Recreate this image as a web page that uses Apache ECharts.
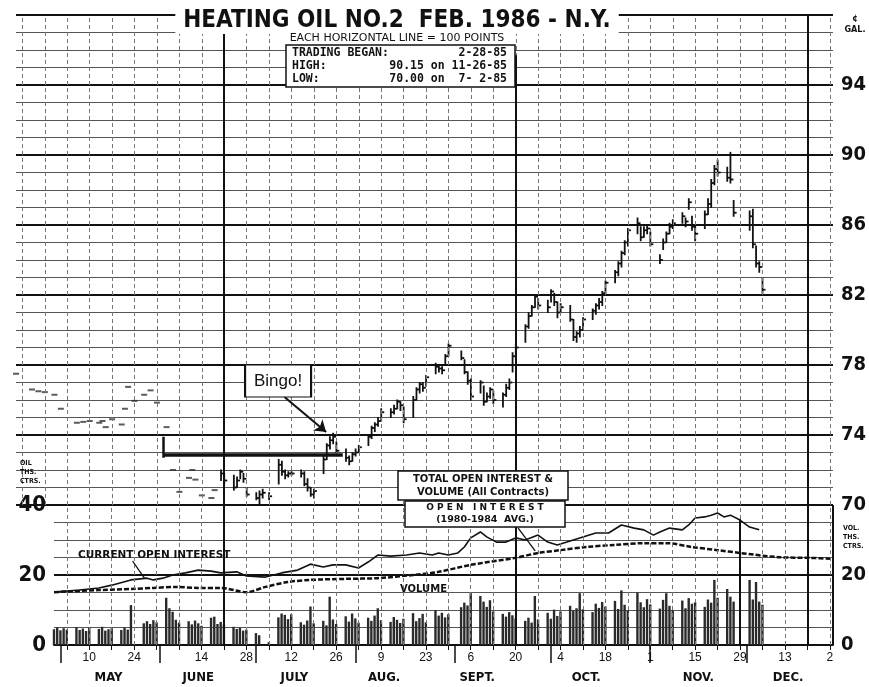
<!DOCTYPE html>
<html>
<head>
<meta charset="utf-8">
<title>Heating Oil No.2 Feb. 1986 - N.Y.</title>
<script src="https://cdn.jsdelivr.net/npm/echarts@6/dist/echarts.min.js"></script>
<style>
  html, body { margin: 0; padding: 0; background: #fff; }
  #chart { width: 869px; height: 687px; }
</style>
</head>
<body>
<div id="chart"></div>
<script>
// day numbers count from Friday 3 May 1985 (= day 0)

// thin early trading, closes only (drawn as dashes)
var dashDays   = [-16, -11, -9, -7, -4, -2, 3, 5, 7, 10, 11, 12, 14, 17, 18, 19, 21, 24, 26, 28, 31, 33, 35, 38, 39, 40, 42, 45, 46];
var dashPrices = [77.5, 76.6, 76.5, 76.45, 76.3, 75.5, 74.7, 74.75, 74.8, 74.7, 74.8, 74.45, 74.9, 74.6, 75.5, 76.75, 75.95, 76.3, 76.55, 75.85, 74.45, 72.0, 70.75, 71.55, 72.0, 71.45, 70.55, 70.4, 70.85];

// daily high / low / close bars
var barDays = [48, 49, 52, 53, 54, 55, 56, 59, 60, 61, 63, 66, 67, 68, 69, 70, 73, 74, 75, 76, 77,
  80, 81, 82, 83, 84, 87, 88, 89, 90, 91, 94, 95, 96, 97, 98, 101, 102, 103, 104, 105,
  108, 109, 110, 111, 112, 115, 116, 117, 118, 119, 123, 124, 125, 126, 129, 130, 131, 132, 133,
  136, 137, 138, 139, 140, 143, 144, 145, 146, 147, 150, 151, 152, 153, 154, 157, 158, 159, 160, 161,
  164, 165, 166, 167, 168, 171, 172, 173, 174, 175, 178, 179, 180, 181, 182, 185, 186, 187, 188, 189,
  192, 193, 194, 195, 196, 199, 200, 201, 202, 203, 206, 207, 208, 213, 214, 215, 216, 217];
var highs = [72.0, 71.8, 71.7, 71.6, 72.0, 71.8, 71.0, 70.7, 70.8, 70.9, 70.7, 72.6, 72.5, 72.0, 71.9, 71.9, 72.0, 71.9, 71.5, 71.0, 70.9,
  72.8, 73.5, 73.9, 74.1, 73.6, 73.2, 72.8, 73.0, 73.2, 73.4, 74.0, 74.5, 74.7, 75.0, 75.5, 75.5, 75.7, 76.0, 75.9, 75.6,
  76.2, 76.7, 77.0, 77.0, 77.4, 78.1, 78.0, 77.9, 78.6, 79.2, 78.8, 78.3, 77.6, 77.2, 77.1, 76.8, 76.4, 76.7, 76.5,
  76.4, 76.9, 77.2, 78.7, 79.2, 80.3, 81.0, 81.4, 82.0, 81.8, 81.7, 82.3, 82.1, 81.6, 81.5, 81.4, 80.6, 79.9, 80.2, 80.7,
  81.2, 81.5, 81.8, 82.2, 82.8, 83.4, 83.9, 84.5, 85.1, 85.8, 86.4, 85.9, 85.9, 86.0, 85.6, 84.3, 85.2, 85.6, 86.1, 86.3,
  86.7, 86.4, 87.5, 86.5, 86.0, 86.8, 87.5, 88.6, 89.4, 89.7, 89.3, 90.15, 87.4, 86.8, 86.9, 84.8, 83.9, 83.0];
var lows = [71.4, 71.2, 70.85, 71.0, 71.5, 71.3, 70.5, 70.3, 70.0, 70.4, 70.3, 71.2, 71.7, 71.5, 71.6, 71.7, 71.6, 71.1, 70.8, 70.5, 70.4,
  71.8, 72.6, 73.2, 73.5, 73.0, 72.5, 72.3, 72.5, 72.8, 73.0, 73.4, 73.8, 74.2, 74.5, 74.8, 75.0, 75.2, 75.5, 75.4, 74.7,
  75.0, 76.0, 76.4, 76.5, 76.8, 77.5, 77.6, 77.5, 78.0, 78.5, 78.3, 77.5, 76.9, 76.0, 76.4, 75.7, 75.9, 76.1, 75.8,
  75.6, 76.2, 76.6, 77.6, 78.3, 79.3, 80.1, 80.8, 81.3, 81.2, 81.0, 81.6, 81.4, 80.7, 81.0, 80.5, 79.4, 79.3, 79.6, 80.0,
  80.6, 80.9, 81.2, 81.4, 82.0, 82.7, 83.1, 83.6, 84.3, 84.8, 85.5, 85.1, 85.3, 85.5, 84.8, 83.8, 84.6, 85.0, 85.5, 85.8,
  86.1, 85.9, 86.9, 85.7, 85.1, 85.8, 86.6, 87.0, 88.3, 88.8, 88.5, 88.4, 86.5, 85.7, 84.7, 83.6, 83.3, 82.1];
var closes = [71.8, 71.4, 71.0, 71.4, 71.9, 71.5, 70.6, 70.4, 70.6, 70.7, 70.5, 72.3, 71.9, 71.7, 71.8, 71.8, 71.8, 71.2, 71.0, 70.6, 70.8,
  72.6, 73.4, 73.7, 73.9, 73.1, 72.7, 72.5, 72.9, 73.0, 73.3, 73.9, 74.4, 74.6, 74.8, 75.3, 75.3, 75.5, 75.9, 75.7, 74.9,
  76.0, 76.6, 76.9, 76.7, 77.3, 77.9, 77.8, 77.7, 78.5, 79.1, 78.4, 77.6, 77.1, 76.2, 77.0, 75.9, 76.2, 76.6, 76.0,
  76.3, 76.7, 77.0, 78.5, 79.0, 80.2, 80.8, 81.3, 81.9, 81.4, 81.3, 82.2, 81.6, 81.0, 81.3, 80.6, 79.6, 79.8, 80.0, 80.6,
  81.1, 81.4, 81.6, 82.1, 82.7, 83.3, 83.8, 84.4, 85.0, 85.7, 86.1, 85.3, 85.7, 85.8, 84.9, 84.0, 85.0, 85.5, 85.9, 86.1,
  86.5, 86.2, 87.3, 85.9, 85.5, 86.6, 87.2, 88.4, 89.2, 89.0, 88.7, 88.6, 86.7, 86.5, 84.9, 83.8, 83.6, 82.3];

// daily volume, thousands of contracts
var volDays = [-4, -3, -2, -1, 0, 3, 4, 5, 6, 7, 10, 11, 12, 13, 14, 17, 18, 19, 20, 24, 25, 26, 27, 28,
  31, 32, 33, 34, 35, 38, 39, 40, 41, 42, 45, 46, 47, 48, 49, 52, 53, 54, 55, 56, 59, 60, 63,
  66, 67, 68, 69, 70, 73, 74, 75, 76, 77, 80, 81, 82, 83, 84, 87, 88, 89, 90, 91, 94, 95, 96, 97, 98,
  101, 102, 103, 104, 105, 108, 109, 110, 111, 112, 115, 116, 117, 118, 119, 123, 124, 125, 126,
  129, 130, 131, 132, 133, 136, 137, 138, 139, 140, 143, 144, 145, 146, 147, 150, 151, 152, 153, 154,
  157, 158, 159, 160, 161, 164, 165, 166, 167, 168, 171, 172, 173, 174, 175, 178, 179, 180, 181, 182,
  185, 186, 187, 188, 189, 192, 193, 194, 195, 196, 199, 200, 201, 202, 203, 206, 207, 208, 213, 214, 215, 216, 217];
var volumes = [4.5, 5.0, 4.2, 4.8, 4.4, 5.1, 4.3, 4.7, 4.0, 4.9, 4.6, 5.2, 4.1, 4.5, 4.8, 4.3, 5.0, 4.4, 11.4, 6.2, 6.8, 6.0, 7.1, 6.5,
  13.5, 10.5, 9.5, 7.2, 6.4, 6.8, 5.9, 7.0, 6.2, 5.5, 7.8, 8.1, 6.0, 6.6, 5.9, 5.2, 4.6, 4.9, 4.1, 4.4, 3.4, 2.8, 0.8,
  7.9, 9.0, 8.6, 7.4, 8.8, 6.5, 5.8, 7.0, 11.0, 6.2, 6.9, 5.6, 13.8, 7.3, 6.0, 8.2, 6.7, 9.0, 7.6, 6.4, 7.8, 6.9, 8.4, 10.5, 7.1,
  6.6, 8.0, 7.2, 6.3, 7.5, 9.1, 6.8, 7.7, 8.9, 6.5, 10.0, 8.4, 9.2, 7.9, 8.8, 10.8, 12.1, 11.3, 14.8,
  14.0, 12.4, 10.9, 12.8, 9.6, 8.9, 8.1, 9.4, 8.5, 7.6, 6.9, 7.8, 6.4, 14.0, 7.3, 9.2, 7.5, 10.1, 8.3, 9.6,
  11.2, 9.8, 10.5, 14.8, 10.2, 9.4, 11.8, 10.6, 12.3, 11.0, 12.6, 10.3, 15.6, 11.5, 9.8, 15.0, 12.2, 10.8, 13.1, 11.6,
  10.4, 12.9, 14.8, 11.2, 9.9, 12.7, 10.5, 13.4, 11.8, 12.2, 10.9, 13.0, 12.1, 18.6, 13.5, 16.0, 13.8, 12.4, 18.6, 13.0, 18.0, 12.4, 11.5];

// total open interest (all contracts)
var oiDays  = [-4, 4, 10, 14, 20, 25, 27, 30, 33, 37, 41, 45, 48, 53, 56, 62, 67, 72, 76, 80, 83, 87, 91, 94, 97, 101, 106, 110, 114, 116, 119, 122, 124, 126, 129, 131, 134, 137, 140, 143, 147, 150, 153, 156, 160, 165, 169, 173, 177, 180, 183, 185, 188, 192, 194, 196, 199, 201, 203, 205, 207, 210, 213, 216];
var oiTotal = [15.1, 15.7, 16.3, 17.1, 18.6, 19.1, 18.6, 19.1, 20.0, 20.6, 21.4, 21.1, 20.6, 20.9, 19.7, 19.4, 20.6, 21.4, 23.1, 22.3, 22.9, 22.9, 22.0, 23.7, 25.7, 25.4, 25.7, 26.3, 25.7, 26.3, 25.7, 26.3, 28.0, 30.6, 32.3, 30.9, 29.4, 29.4, 30.6, 30.0, 31.4, 29.4, 28.6, 29.4, 30.6, 32.0, 32.0, 34.3, 33.4, 32.9, 31.4, 32.3, 33.4, 32.9, 34.3, 36.3, 36.6, 37.1, 37.7, 36.6, 37.1, 35.7, 33.7, 32.9];

// open interest, 1980-1984 average
var avgDays = [-4, 10, 20, 27, 34, 41, 48, 56, 62, 69, 76, 87, 97, 108, 116, 126, 140, 147, 154, 162, 171, 180, 187, 195, 203, 210, 222, 232, 239];
var oiAvg   = [15.1, 15.7, 16.0, 16.3, 16.6, 16.3, 16.3, 15.1, 16.6, 18.0, 18.6, 18.9, 19.1, 20.0, 20.9, 22.9, 24.9, 26.3, 27.1, 28.0, 28.6, 29.1, 29.1, 28.0, 27.1, 26.3, 25.1, 24.9, 24.6];

// date labels
var dayTicks  = [7, 21, 42, 56, 70, 84, 98, 112, 126, 140, 154, 168, 182, 196, 210, 224, 238];
var dayLabels = ['10', '24', '14', '28', '12', '26', '9', '23', '6', '20', '4', '18', '1', '15', '29', '13', '2'];
var monthStarts = [-2, 29, 59, 90, 121, 151, 182, 212];
var monthMids   = [13, 41, 71, 99, 128, 162, 197, 225];
var monthNames  = ['MAY', 'JUNE', 'JULY', 'AUG.', 'SEPT.', 'OCT.', 'NOV.', 'DEC.'];

var INK = '#111';
var COND = "'DejaVu Sans Condensed','Liberation Sans Narrow','Roboto Condensed','DejaVu Sans',sans-serif";
var MONO = "'DejaVu Sans Mono','Liberation Mono',monospace";
var WIDE = "'DejaVu Sans',Verdana,sans-serif";

// weekly (Friday) grid lines
var fridays = [];
for (var f = -14; f <= 238; f += 7) fridays.push(f);

var weekLine = { color: '#777', width: 1, type: [4, 3] };
var heavy = { color: INK, width: 2, type: 'solid' };

var priceLines = fridays.map(function (d) { return { xAxis: d, lineStyle: weekLine }; });
priceLines.push([{ coord: [49, 70] }, { coord: [49, 98], lineStyle: heavy }]);
priceLines.push([{ coord: [140, 70] }, { coord: [140, 95.7], lineStyle: heavy }]);
priceLines.push([{ coord: [231, 70] }, { coord: [231, 98], lineStyle: heavy }]);
// hand drawn support line and "Bingo!" arrow
priceLines.push([{ coord: [30, 72.9] }, { coord: [86, 72.9], lineStyle: { color: INK, width: 3.5, type: 'solid' } }]);
priceLines.push([{ coord: [30, 73.9] }, { coord: [30, 72.7], lineStyle: { color: INK, width: 2.5, type: 'solid' } }]);
priceLines.push([{ coord: [67.8, 76.17] }, { coord: [80.8, 74.17], symbol: 'arrow', symbolSize: 11, lineStyle: { color: INK, width: 2, type: 'solid' } }]);

var volLines = fridays.filter(function (d) { return d >= 0; }).map(function (d) { return { xAxis: d, lineStyle: weekLine }; });
volLines.push([{ coord: [49, 0] }, { coord: [49, 40], lineStyle: heavy }]);
volLines.push([{ coord: [140, 0] }, { coord: [140, 40], lineStyle: heavy }]);
volLines.push([{ coord: [231, 0] }, { coord: [231, 40], lineStyle: heavy }]);
volLines.push([{ coord: [210, 0] }, { coord: [210, 36], lineStyle: heavy }]);
volLines.push([{ coord: [239, 0] }, { coord: [239, 40], lineStyle: heavy }]);

// little helpers for the boxed notes
function note(x, y, text, font, align) {
  return { type: 'text', z: 100, style: { x: x, y: y, text: text, font: font, fill: INK, textAlign: align || 'left', textVerticalAlign: 'middle' } };
}
function box(x, y, w, h) {
  return { type: 'rect', z: 99, shape: { x: x, y: y, width: w, height: h }, style: { fill: '#fff', stroke: INK, lineWidth: 1.5 } };
}

var chart = echarts.init(document.getElementById('chart'));

var option = {
  backgroundColor: '#fff',
  animation: false,
  grid: [
    { left: 16, right: 33, top: 15, bottom: 182 },
    { left: 54, right: 33, top: 505, bottom: 42 }
  ],
  xAxis: [
    { gridIndex: 0, type: 'value', min: -16, max: 239, show: false },
    {
      gridIndex: 1, type: 'value', min: -4, max: 239,
      axisLine: { show: true, lineStyle: { color: INK, width: 2 } },
      axisTick: { show: true, customValues: fridays.filter(function (d) { return d >= 0; }), length: 5, lineStyle: { color: INK } },
      axisLabel: {
        customValues: dayTicks, color: INK, fontSize: 12, margin: 7,
        fontFamily: 'Liberation Sans, Arial, sans-serif',
        formatter: function (v) { return dayLabels[dayTicks.indexOf(v)]; }
      },
      splitLine: { show: false }
    },
    {
      gridIndex: 1, type: 'value', min: -4, max: 239, position: 'bottom', offset: 20,
      axisLine: { show: false },
      axisTick: { show: true, customValues: monthStarts, length: 18, lineStyle: { color: INK, width: 1.5 } },
      axisLabel: {
        customValues: monthMids, color: INK, fontSize: 13, fontWeight: 'bold', margin: 6,
        fontFamily: COND,
        formatter: function (v) { return monthNames[monthMids.indexOf(v)]; }
      },
      splitLine: { show: false }
    }
  ],
  yAxis: [
    {
      gridIndex: 0, type: 'value', min: 70, max: 98, interval: 4, position: 'right',
      axisLine: { show: false }, axisTick: { show: false },
      axisLabel: {
        color: INK, fontSize: 20, fontWeight: 'bold', fontFamily: COND, margin: 8,
        formatter: function (v) { return v === 98 ? '' : v; }
      },
      splitLine: { show: true, lineStyle: { color: INK, width: 2 } },
      minorTick: { show: false, splitNumber: 4 },
      minorSplitLine: { show: true, lineStyle: { color: '#555', width: 1 } }
    },
    {
      gridIndex: 1, type: 'value', min: 0, max: 40, interval: 20, position: 'left',
      axisLine: { show: false }, axisTick: { show: false },
      axisLabel: { color: INK, fontSize: 22, fontWeight: 'bold', fontFamily: COND, margin: 8 },
      splitLine: { show: true, lineStyle: { color: INK, width: 2 } },
      minorTick: { show: false, splitNumber: 4 },
      minorSplitLine: { show: true, lineStyle: { color: '#555', width: 1 } }
    },
    {
      gridIndex: 1, type: 'value', min: 0, max: 40, interval: 20, position: 'right',
      axisLine: { show: false }, axisTick: { show: false },
      axisLabel: {
        color: INK, fontSize: 20, fontWeight: 'bold', fontFamily: COND, margin: 8,
        formatter: function (v) { return v === 40 ? '' : v; }
      },
      splitLine: { show: false }
    }
  ],
  series: [
    {
      name: 'early trading',
      type: 'scatter',
      xAxisIndex: 0, yAxisIndex: 0,
      symbol: 'rect', symbolSize: [6, 2],
      itemStyle: { color: '#333' },
      data: dashDays.map(function (d, i) { return [d, dashPrices[i]]; }),
      markLine: { silent: true, symbol: 'none', label: { show: false }, data: priceLines },
      markPoint: {
        silent: true,
        data: [{
          coord: [65.8, 77.09], symbol: 'rect', symbolSize: [66, 32],
          itemStyle: { color: '#fff', borderColor: INK, borderWidth: 1.5 },
          label: { show: true, position: 'inside', formatter: 'Bingo!', color: INK, fontSize: 17, fontFamily: 'Liberation Sans, Arial, sans-serif' }
        }]
      }
    },
    {
      name: 'price',
      type: 'custom',
      xAxisIndex: 0, yAxisIndex: 0,
      encode: { x: 0, y: [1, 2, 3] },
      data: barDays.map(function (d, i) { return [d, highs[i], lows[i], closes[i]]; }),
      renderItem: function (params, api) {
        var d = api.value(0);
        var hi = api.coord([d, api.value(1)]);
        var lo = api.coord([d, api.value(2)]);
        var cl = api.coord([d, api.value(3)]);
        return {
          type: 'group',
          children: [
            { type: 'line', shape: { x1: hi[0], y1: hi[1] - 0.5, x2: lo[0], y2: lo[1] + 0.5 }, style: { stroke: INK, lineWidth: 1.8 } },
            { type: 'line', shape: { x1: cl[0], y1: cl[1], x2: cl[0] + 3, y2: cl[1] }, style: { stroke: INK, lineWidth: 1.8 } }
          ]
        };
      }
    },
    {
      name: 'volume',
      type: 'bar',
      xAxisIndex: 1, yAxisIndex: 1,
      barWidth: 2.4,
      itemStyle: { color: '#2a2a2a' },
      data: volDays.map(function (d, i) { return [d, volumes[i]]; }),
      markLine: { silent: true, symbol: 'none', label: { show: false }, data: volLines }
    },
    {
      name: 'total open interest',
      type: 'line',
      xAxisIndex: 1, yAxisIndex: 1,
      symbol: 'none',
      lineStyle: { color: INK, width: 1.6 },
      data: oiDays.map(function (d, i) { return [d, oiTotal[i]]; }),
      markLine: {
        silent: true, symbol: 'none', label: { show: false },
        lineStyle: { color: INK, width: 1.3, type: 'solid' },
        data: [
          [{ coord: [20.5, 24.0] }, { coord: [24.2, 19.1] }],
          [{ coord: [140.8, 33.4] }, { coord: [146.1, 26.9] }]
        ]
      }
    },
    {
      name: 'open interest 1980-1984 avg',
      type: 'line',
      xAxisIndex: 1, yAxisIndex: 1,
      symbol: 'none', smooth: 0.3,
      lineStyle: { color: INK, width: 2.5, type: [5, 2] },
      data: avgDays.map(function (d, i) { return [d, oiAvg[i]]; })
    }
  ],
  graphic: [
    {
      type: 'text', z: 100,
      style: {
        x: 397, y: 21, text: 'HEATING OIL NO.2  FEB. 1986 - N.Y.',
        textAlign: 'center', textVerticalAlign: 'middle',
        font: 'bold 24px ' + COND, fill: INK,
        backgroundColor: '#fff', padding: [1, 8]
      }
    },
    {
      type: 'text', z: 100,
      style: {
        x: 397, y: 38, text: 'EACH HORIZONTAL LINE = 100 POINTS',
        textAlign: 'center', textVerticalAlign: 'middle',
        font: '11px ' + WIDE, fill: INK,
        backgroundColor: '#fff', padding: [0, 2]
      }
    },
    box(286, 45, 229, 42),
    note(292, 53, 'TRADING BEGAN:', 'bold 11.5px ' + MONO),
    note(507, 53, '2-28-85', 'bold 11.5px ' + MONO, 'right'),
    note(292, 66, 'HIGH:', 'bold 11.5px ' + MONO),
    note(507, 66, '90.15 on 11-26-85', 'bold 11.5px ' + MONO, 'right'),
    note(292, 79, 'LOW:', 'bold 11.5px ' + MONO),
    note(507, 79, '70.00 on  7- 2-85', 'bold 11.5px ' + MONO, 'right'),
    {
      type: 'text', z: 100,
      style: { x: 855, y: 24, text: '¢\nGAL.', textAlign: 'center', textVerticalAlign: 'middle', font: 'bold 9px ' + COND, fill: INK, lineHeight: 11 }
    },
    {
      type: 'text', z: 100,
      style: { x: 20, y: 472, text: 'OIL\nTHS.\nCTRS.', textVerticalAlign: 'middle', font: 'bold 7px ' + COND, fill: INK, lineHeight: 9 }
    },
    {
      type: 'text', z: 100,
      style: { x: 843, y: 537, text: 'VOL.\nTHS.\nCTRS.', textVerticalAlign: 'middle', font: 'bold 7px ' + COND, fill: INK, lineHeight: 9 }
    },
    box(398, 471, 170, 29),
    note(483, 479, 'TOTAL OPEN INTEREST &', 'bold 10px ' + WIDE, 'center'),
    note(483, 492, 'VOLUME (All Contracts)', 'bold 10px ' + WIDE, 'center'),
    box(405, 501, 160, 26),
    note(485, 508, 'O P E N   I N T E R E S T', 'bold 9px ' + WIDE, 'center'),
    note(485, 520, '(1980-1984  AVG.)', 'bold 9.5px ' + WIDE, 'center'),
    note(78, 555, 'CURRENT OPEN INTEREST', 'bold 10.5px ' + WIDE),
    note(400, 589, 'VOLUME', 'bold 10px ' + WIDE)
  ]
};

chart.setOption(option);
</script>
</body>
</html>
